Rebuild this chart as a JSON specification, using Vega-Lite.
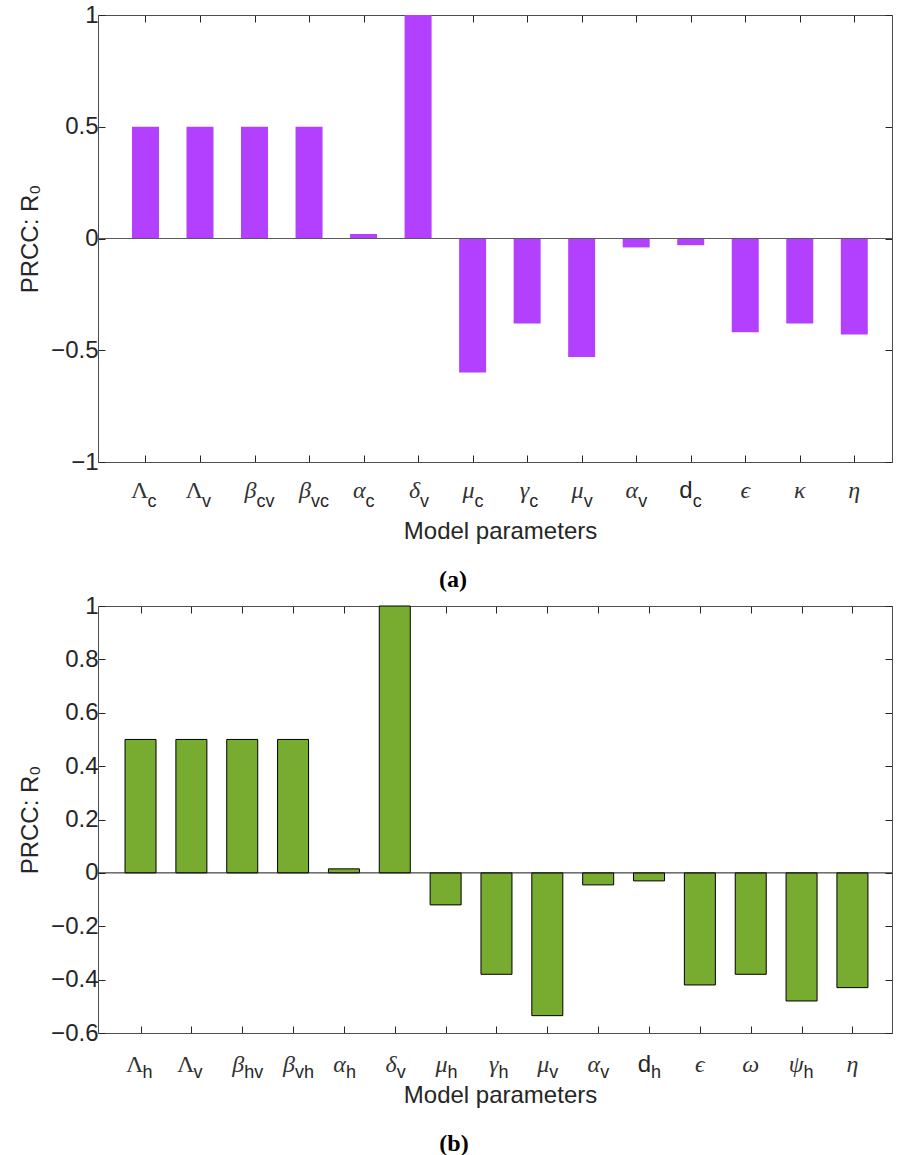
{
  "$schema": "https://vega.github.io/schema/vega-lite/v6.json",
  "background": "white",
  "padding": {"left": 18, "top": 3, "right": 0, "bottom": 0},
  "spacing": 144,
  "bounds": "flush",
  "config": {
    "view": {"stroke": null},
    "axis": {
      "grid": false,
      "domainColor": "#4d4d4d",
      "domainWidth": 1,
      "tickColor": "#262626",
      "tickWidth": 1,
      "tickSize": -7,
      "labelFont": "Liberation Sans",
      "labelFontSize": 24,
      "labelColor": "#262626",
      "titleFont": "Liberation Sans",
      "titleFontSize": 24,
      "titleFontWeight": "normal",
      "titleColor": "#262626"
    }
  },
  "datasets": {
    "vector": [
      {"i": 1, "sym": "Λ", "sub": "c", "prcc": 0.5},
      {"i": 2, "sym": "Λ", "sub": "v", "prcc": 0.5},
      {"i": 3, "sym": "β", "sub": "cv", "prcc": 0.5},
      {"i": 4, "sym": "β", "sub": "vc", "prcc": 0.5},
      {"i": 5, "sym": "α", "sub": "c", "prcc": 0.02},
      {"i": 6, "sym": "δ", "sub": "v", "prcc": 1.0},
      {"i": 7, "sym": "μ", "sub": "c", "prcc": -0.6},
      {"i": 8, "sym": "γ", "sub": "c", "prcc": -0.38},
      {"i": 9, "sym": "μ", "sub": "v", "prcc": -0.53},
      {"i": 10, "sym": "α", "sub": "v", "prcc": -0.04},
      {"i": 11, "sym": "d", "sub": "c", "prcc": -0.03},
      {"i": 12, "sym": "ϵ", "sub": "", "prcc": -0.42},
      {"i": 13, "sym": "κ", "sub": "", "prcc": -0.38},
      {"i": 14, "sym": "η", "sub": "", "prcc": -0.43}
    ],
    "host": [
      {"i": 1, "sym": "Λ", "sub": "h", "prcc": 0.5},
      {"i": 2, "sym": "Λ", "sub": "v", "prcc": 0.5},
      {"i": 3, "sym": "β", "sub": "hv", "prcc": 0.5},
      {"i": 4, "sym": "β", "sub": "vh", "prcc": 0.5},
      {"i": 5, "sym": "α", "sub": "h", "prcc": 0.015},
      {"i": 6, "sym": "δ", "sub": "v", "prcc": 1.0},
      {"i": 7, "sym": "μ", "sub": "h", "prcc": -0.12},
      {"i": 8, "sym": "γ", "sub": "h", "prcc": -0.38},
      {"i": 9, "sym": "μ", "sub": "v", "prcc": -0.535},
      {"i": 10, "sym": "α", "sub": "v", "prcc": -0.045},
      {"i": 11, "sym": "d", "sub": "h", "prcc": -0.03},
      {"i": 12, "sym": "ϵ", "sub": "", "prcc": -0.42},
      {"i": 13, "sym": "ω", "sub": "", "prcc": -0.38},
      {"i": 14, "sym": "ψ", "sub": "h", "prcc": -0.48},
      {"i": 15, "sym": "η", "sub": "", "prcc": -0.43}
    ]
  },
  "vconcat": [
    {
      "width": 794,
      "height": 447,
      "data": {"name": "vector"},
      "title": {"text": "(a)", "orient": "bottom", "anchor": "middle", "dx": -42, "offset": 24, "font": "Liberation Serif", "fontSize": 24, "fontWeight": "bold", "color": "#000000"},
      "layer": [
        {
          "mark": {"type": "bar", "width": 27, "color": "#B340FF", "orient": "vertical"},
          "encoding": {
            "x": {"field": "i", "type": "quantitative", "scale": {"domain": [0.221, 14.6], "nice": false, "zero": false},
                  "axis": {"orient": "bottom", "values": [1,2,3,4,5,6,7,8,9,10,11,12,13,14], "labels": false, "title": "Model parameters", "titleBaseline": "alphabetic", "titlePadding": 76, "titleX": 402}},
            "y": {"field": "prcc", "type": "quantitative", "stack": null, "scale": {"domain": [-1, 1], "nice": false},
                  "axis": {"orient": "left", "values": [-1, -0.5, 0, 0.5, 1], "format": "~g", "labelPadding": 7, "title": "PRCC: R₀", "titlePadding": 8}},
            "y2": {"datum": 0}
          }
        },
        {
          "data": {"values": [{}]},
          "mark": {"type": "rule", "color": "#5a5a5a", "strokeWidth": 1},
          "encoding": {
            "y": {"datum": 0, "type": "quantitative", "scale": {"domain": [-1, 1], "nice": false},
                  "axis": {"orient": "right", "values": [-1, -0.5, 0, 0.5, 1], "labels": false, "title": null}}
          }
        },
        {
          "transform": [{"filter": "datum.sym === 'Λ'"}],
          "mark": {"type": "text", "align": "right", "baseline": "alphabetic", "dx": 3, "dy": 36, "font": "Liberation Serif", "fontSize": 24, "color": "#333333"},
          "encoding": {
            "x": {"field": "i", "type": "quantitative", "scale": {"domain": [0.221, 14.6], "nice": false, "zero": false}, "axis": null},
            "y": {"datum": -1, "type": "quantitative", "scale": {"domain": [-1, 1], "nice": false}, "axis": null},
            "text": {"field": "sym"}
          }
        },
        {
          "transform": [{"filter": "datum.sym === 'd'"}],
          "mark": {"type": "text", "align": "right", "baseline": "alphabetic", "dx": 2, "dy": 36, "font": "Liberation Sans", "fontSize": 24, "color": "#262626"},
          "encoding": {
            "x": {"field": "i", "type": "quantitative", "scale": {"domain": [0.221, 14.6], "nice": false, "zero": false}, "axis": null},
            "y": {"datum": -1, "type": "quantitative", "scale": {"domain": [-1, 1], "nice": false}, "axis": null},
            "text": {"field": "sym"}
          }
        },
        {
          "transform": [{"filter": "datum.sym !== 'Λ' && datum.sym !== 'd' && datum.sub !== ''"}],
          "mark": {"type": "text", "align": "right", "baseline": "alphabetic", "dx": 2, "dy": 36, "font": "Liberation Serif", "fontStyle": "italic", "fontSize": 24, "color": "#333333"},
          "encoding": {
            "x": {"field": "i", "type": "quantitative", "scale": {"domain": [0.221, 14.6], "nice": false, "zero": false}, "axis": null},
            "y": {"datum": -1, "type": "quantitative", "scale": {"domain": [-1, 1], "nice": false}, "axis": null},
            "text": {"field": "sym"}
          }
        },
        {
          "transform": [{"filter": "datum.sub === ''"}],
          "mark": {"type": "text", "align": "center", "baseline": "alphabetic", "dy": 36, "font": "Liberation Serif", "fontStyle": "italic", "fontSize": 24, "color": "#333333"},
          "encoding": {
            "x": {"field": "i", "type": "quantitative", "scale": {"domain": [0.221, 14.6], "nice": false, "zero": false}, "axis": null},
            "y": {"datum": -1, "type": "quantitative", "scale": {"domain": [-1, 1], "nice": false}, "axis": null},
            "text": {"field": "sym"}
          }
        },
        {
          "transform": [{"filter": "datum.sub !== ''"}],
          "mark": {"type": "text", "align": "left", "baseline": "alphabetic", "dx": 2, "dy": 45, "font": "Liberation Sans", "fontSize": 18, "color": "#262626"},
          "encoding": {
            "x": {"field": "i", "type": "quantitative", "scale": {"domain": [0.221, 14.6], "nice": false, "zero": false},
                  "axis": {"orient": "top", "values": [1,2,3,4,5,6,7,8,9,10,11,12,13,14], "labels": false, "title": null}},
            "y": {"datum": -1, "type": "quantitative", "scale": {"domain": [-1, 1], "nice": false}, "axis": null},
            "text": {"field": "sub"}
          }
        }
      ],
      "resolve": {"axis": {"x": "independent", "y": "independent"}}
    },
    {
      "width": 794,
      "height": 427,
      "data": {"name": "host"},
      "title": {"text": "(b)", "orient": "bottom", "anchor": "middle", "dx": -41, "offset": 24, "font": "Liberation Serif", "fontSize": 24, "fontWeight": "bold", "color": "#000000"},
      "layer": [
        {
          "mark": {"type": "bar", "width": 31, "color": "#77AC30", "stroke": "#000000", "strokeWidth": 1, "orient": "vertical"},
          "encoding": {
            "x": {"field": "i", "type": "quantitative", "scale": {"domain": [0.262, 15.68], "nice": false, "zero": false},
                  "axis": {"orient": "bottom", "values": [1,2,3,4,5,6,7,8,9,10,11,12,13,14,15], "labels": false, "title": "Model parameters", "titleBaseline": "alphabetic", "titlePadding": 69, "titleX": 402}},
            "y": {"field": "prcc", "type": "quantitative", "stack": null, "scale": {"domain": [-0.6, 1], "nice": false},
                  "axis": {"orient": "left", "values": [-0.6, -0.4, -0.2, 0, 0.2, 0.4, 0.6, 0.8, 1], "format": "~g", "labelPadding": 7, "title": "PRCC: R₀", "titlePadding": 8}},
            "y2": {"datum": 0}
          }
        },
        {
          "data": {"values": [{}]},
          "mark": {"type": "rule", "color": "#1a1a1a", "strokeWidth": 1},
          "encoding": {
            "y": {"datum": 0, "type": "quantitative", "scale": {"domain": [-0.6, 1], "nice": false},
                  "axis": {"orient": "right", "values": [-0.6, -0.4, -0.2, 0, 0.2, 0.4, 0.6, 0.8, 1], "labels": false, "title": null}}
          }
        },
        {
          "transform": [{"filter": "datum.sym === 'Λ'"}],
          "mark": {"type": "text", "align": "right", "baseline": "alphabetic", "dx": 3, "dy": 39, "font": "Liberation Serif", "fontSize": 24, "color": "#333333"},
          "encoding": {
            "x": {"field": "i", "type": "quantitative", "scale": {"domain": [0.262, 15.68], "nice": false, "zero": false}, "axis": null},
            "y": {"datum": -0.6, "type": "quantitative", "scale": {"domain": [-0.6, 1], "nice": false}, "axis": null},
            "text": {"field": "sym"}
          }
        },
        {
          "transform": [{"filter": "datum.sym === 'd'"}],
          "mark": {"type": "text", "align": "right", "baseline": "alphabetic", "dx": 2, "dy": 39, "font": "Liberation Sans", "fontSize": 24, "color": "#262626"},
          "encoding": {
            "x": {"field": "i", "type": "quantitative", "scale": {"domain": [0.262, 15.68], "nice": false, "zero": false}, "axis": null},
            "y": {"datum": -0.6, "type": "quantitative", "scale": {"domain": [-0.6, 1], "nice": false}, "axis": null},
            "text": {"field": "sym"}
          }
        },
        {
          "transform": [{"filter": "datum.sym !== 'Λ' && datum.sym !== 'd' && datum.sub !== ''"}],
          "mark": {"type": "text", "align": "right", "baseline": "alphabetic", "dx": 2, "dy": 39, "font": "Liberation Serif", "fontStyle": "italic", "fontSize": 24, "color": "#333333"},
          "encoding": {
            "x": {"field": "i", "type": "quantitative", "scale": {"domain": [0.262, 15.68], "nice": false, "zero": false}, "axis": null},
            "y": {"datum": -0.6, "type": "quantitative", "scale": {"domain": [-0.6, 1], "nice": false}, "axis": null},
            "text": {"field": "sym"}
          }
        },
        {
          "transform": [{"filter": "datum.sub === ''"}],
          "mark": {"type": "text", "align": "center", "baseline": "alphabetic", "dy": 39, "font": "Liberation Serif", "fontStyle": "italic", "fontSize": 24, "color": "#333333"},
          "encoding": {
            "x": {"field": "i", "type": "quantitative", "scale": {"domain": [0.262, 15.68], "nice": false, "zero": false}, "axis": null},
            "y": {"datum": -0.6, "type": "quantitative", "scale": {"domain": [-0.6, 1], "nice": false}, "axis": null},
            "text": {"field": "sym"}
          }
        },
        {
          "transform": [{"filter": "datum.sub !== ''"}],
          "mark": {"type": "text", "align": "left", "baseline": "alphabetic", "dx": 2, "dy": 45, "font": "Liberation Sans", "fontSize": 18, "color": "#262626"},
          "encoding": {
            "x": {"field": "i", "type": "quantitative", "scale": {"domain": [0.262, 15.68], "nice": false, "zero": false},
                  "axis": {"orient": "top", "values": [1,2,3,4,5,6,7,8,9,10,11,12,13,14,15], "labels": false, "title": null}},
            "y": {"datum": -0.6, "type": "quantitative", "scale": {"domain": [-0.6, 1], "nice": false}, "axis": null},
            "text": {"field": "sub"}
          }
        }
      ],
      "resolve": {"axis": {"x": "independent", "y": "independent"}}
    }
  ]
}
